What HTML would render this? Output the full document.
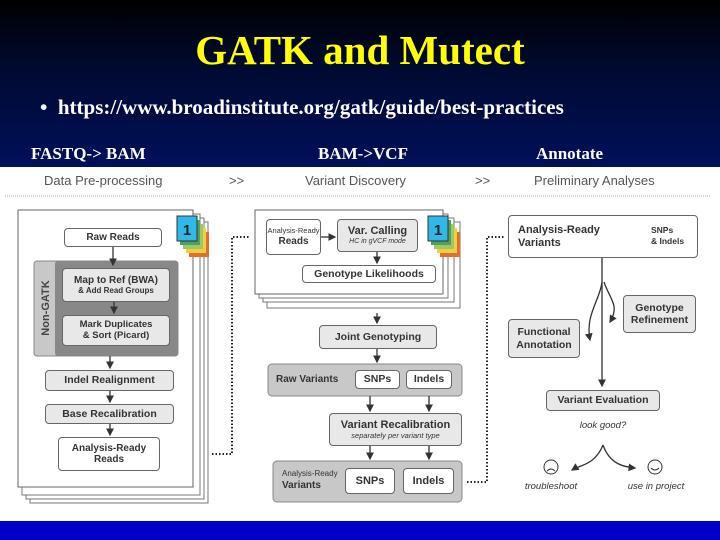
<!DOCTYPE html>
<html><head><meta charset="utf-8"><style>
*{margin:0;padding:0;box-sizing:border-box}
body{width:720px;height:540px;overflow:hidden;position:relative;background:#fff;font-family:"Liberation Sans",sans-serif}
#top{position:absolute;left:0;top:0;width:720px;height:167px;background:linear-gradient(#000 0%,#000a30 40%,#00105a 100%)}
.t{position:absolute;font-family:"Liberation Serif",serif;font-weight:bold;white-space:nowrap}
#bot{position:absolute;left:0;top:521px;width:720px;height:19px;background:#0000c8}
.b{position:absolute;border:1px solid #666;border-radius:4px;display:flex;flex-direction:column;align-items:center;justify-content:center;text-align:center;font-weight:bold;color:#333;line-height:1.15;white-space:nowrap}
.w{background:#fff}.l{background:#e8e8e8}
.h{position:absolute;font-size:13px;color:#555;white-space:nowrap}
</style></head><body>
<div id="top"></div>
<div class="t" style="left:0;width:720px;text-align:center;top:26px;font-size:41px;color:#ffff00">GATK and Mutect</div>
<div class="t" style="left:40px;top:95px;font-size:21px;color:#fff">•&nbsp;&nbsp;https://www.broadinstitute.org/gatk/guide/best-practices</div>
<div class="t" style="left:31px;top:144px;font-size:17px;color:#fff">FASTQ-&gt; BAM</div>
<div class="t" style="left:318px;top:144px;font-size:17px;color:#fff">BAM-&gt;VCF</div>
<div class="t" style="left:536px;top:144px;font-size:17px;color:#fff">Annotate</div>
<div id="bot"></div>

<div class="h" style="left:44px;top:173px">Data Pre-processing</div>
<div class="h" style="left:229px;top:173px">&gt;&gt;</div>
<div class="h" style="left:305px;top:173px">Variant Discovery</div>
<div class="h" style="left:475px;top:173px">&gt;&gt;</div>
<div class="h" style="left:534px;top:173px">Preliminary Analyses</div>

<svg style="position:absolute;left:0;top:0" width="720" height="540">
<defs><marker id="a" markerWidth="6" markerHeight="6" refX="5" refY="3" orient="auto"><path d="M0,0L6,3L0,6z" fill="#333"/></marker></defs>
<line x1="5" y1="196" x2="710" y2="196" stroke="#aaa" stroke-dasharray="1,1"/>
<rect x="30" y="222" width="178" height="281" fill="#fff" stroke="#777"/>
<rect x="26" y="218" width="178" height="281" fill="#fff" stroke="#777"/>
<rect x="22" y="214" width="178" height="281" fill="#fff" stroke="#777"/>
<rect x="18" y="210" width="175" height="277" fill="#fff" stroke="#666"/>
<rect x="189" y="232" width="20" height="25" fill="#e07030"/>
<rect x="186" y="228" width="20" height="25" fill="#f0d040"/>
<rect x="183" y="224" width="20" height="25" fill="#a0c860"/>
<rect x="180" y="220" width="20" height="25" fill="#50a060"/>
<rect x="177" y="216" width="20" height="25" fill="#30b8e8" stroke="#333"/>
<text x="187" y="235" font-size="15" font-weight="bold" text-anchor="middle" fill="#222" font-family="Liberation Sans">1</text>
<rect x="34" y="261" width="144" height="95" rx="3" fill="#c8c8c8" stroke="#888"/>
<rect x="55" y="261" width="123" height="95" rx="3" fill="#888"/>
<text transform="translate(49,308) rotate(-90)" font-size="11" font-weight="bold" text-anchor="middle" fill="#444" font-family="Liberation Sans">Non-GATK</text>
<rect x="267" y="222" width="193" height="86" fill="#fff" stroke="#777"/>
<rect x="263" y="218" width="191" height="84" fill="#fff" stroke="#777"/>
<rect x="259" y="214" width="189" height="84" fill="#fff" stroke="#777"/>
<rect x="255" y="210" width="188" height="84" fill="#fff" stroke="#666"/>
<rect x="440" y="232" width="20" height="25" fill="#e07030"/>
<rect x="437" y="228" width="20" height="25" fill="#f0d040"/>
<rect x="434" y="224" width="20" height="25" fill="#a0c860"/>
<rect x="431" y="220" width="20" height="25" fill="#50a060"/>
<rect x="428" y="216" width="20" height="25" fill="#30b8e8" stroke="#333"/>
<text x="438" y="235" font-size="15" font-weight="bold" text-anchor="middle" fill="#222" font-family="Liberation Sans">1</text>
<rect x="268" y="364" width="194" height="32" rx="4" fill="#c8c8c8" stroke="#888"/>
<rect x="273" y="461" width="189" height="41" rx="4" fill="#c8c8c8" stroke="#888"/>
<g stroke="#333" stroke-width="1.3" marker-end="url(#a)">
<line x1="113" y1="247" x2="113" y2="265"/>
<line x1="114" y1="302" x2="114" y2="313"/>
<line x1="110" y1="356" x2="110" y2="368"/>
<line x1="110" y1="391" x2="110" y2="402"/>
<line x1="110" y1="424" x2="110" y2="435"/>
<line x1="321" y1="237" x2="335" y2="237"/>
<line x1="377" y1="252" x2="377" y2="263"/>
<line x1="377" y1="313" x2="377" y2="323"/>
<line x1="377" y1="349" x2="377" y2="362"/>
<line x1="370" y1="396" x2="370" y2="411"/>
<line x1="429" y1="396" x2="429" y2="411"/>
<line x1="370" y1="446" x2="370" y2="459"/>
<line x1="429" y1="446" x2="429" y2="459"/>
<line x1="602" y1="258" x2="602" y2="386"/>
<path d="M602,282 C600,300 585,315 590,340" fill="none"/>
<path d="M604,282 C610,300 620,305 610,322" fill="none"/>
<path d="M603,445 C595,465 580,465 572,470" fill="none"/>
<path d="M603,445 C610,465 625,467 635,468" fill="none"/>
</g>
<g stroke="#222" stroke-width="2" stroke-dasharray="1.5,2" fill="none">
<path d="M212,454 H232 V237 H250"/>
<path d="M467,482 H487 V237 H505"/>
</g>
<rect x="622" y="222" width="21" height="29" fill="#e05020" stroke="#333"/>
<rect x="622" y="222" width="21" height="6" fill="#40b8e0"/>
<rect x="622" y="228" width="21" height="6" fill="#50c0a0"/>
<rect x="622" y="234" width="21" height="5" fill="#a0d050"/>
<rect x="622" y="239" width="21" height="6" fill="#f0c030"/>
<circle cx="551" cy="467" r="7" fill="none" stroke="#333"/>
<path d="M547,471 Q551,467 555,471" fill="none" stroke="#333"/>
<circle cx="655" cy="467" r="7" fill="none" stroke="#333"/>
<path d="M651,468 Q655,472 659,468" fill="none" stroke="#333"/>
</svg>

<div class="b w" style="left:64px;top:228px;width:98px;height:19px;font-size:10px">Raw Reads</div>
<div class="b l" style="left:62px;top:268px;width:108px;height:34px;font-size:10px"><div>Map to Ref (BWA)</div><div style="font-size:8px">&amp; Add Read Groups</div></div>
<div class="b l" style="left:62px;top:315px;width:108px;height:31px;font-size:9.5px"><div>Mark Duplicates</div><div>&amp; Sort (Picard)</div></div>
<div class="b l" style="left:45px;top:370px;width:129px;height:21px;font-size:10.5px">Indel Realignment</div>
<div class="b l" style="left:45px;top:404px;width:129px;height:20px;font-size:10.5px">Base Recalibration</div>
<div class="b w" style="left:58px;top:437px;width:102px;height:34px;font-size:10px"><div>Analysis-Ready</div><div>Reads</div></div>

<div class="b w" style="left:266px;top:219px;width:55px;height:36px;font-size:7.5px;font-weight:normal"><div>Analysis-Ready</div><div style="font-size:10px;font-weight:bold">Reads</div></div>
<div class="b l" style="left:337px;top:219px;width:81px;height:33px;font-size:11px"><div>Var. Calling</div><div style="font-size:7px;font-weight:normal;font-style:italic">HC in gVCF mode</div></div>
<div class="b w" style="left:302px;top:265px;width:134px;height:18px;font-size:10.5px">Genotype Likelihoods</div>
<div class="b l" style="left:319px;top:325px;width:118px;height:24px;font-size:10.5px">Joint Genotyping</div>
<div style="position:absolute;left:276px;top:374px;font-size:10px;font-weight:bold;color:#333">Raw Variants</div>
<div class="b w" style="left:355px;top:370px;width:45px;height:19px;font-size:10.5px">SNPs</div>
<div class="b w" style="left:406px;top:370px;width:46px;height:19px;font-size:10.5px">Indels</div>
<div class="b l" style="left:329px;top:413px;width:133px;height:33px;font-size:11px"><div>Variant Recalibration</div><div style="font-size:7.5px;font-weight:normal;font-style:italic">separately per variant type</div></div>
<div style="position:absolute;left:282px;top:469px;font-size:8px;color:#333;line-height:1.3">Analysis-Ready<br><b style="font-size:10px">Variants</b></div>
<div class="b w" style="left:345px;top:468px;width:50px;height:26px;font-size:11px">SNPs</div>
<div class="b w" style="left:403px;top:468px;width:51px;height:26px;font-size:11px">Indels</div>

<div class="b w" style="left:508px;top:215px;width:190px;height:43px;font-size:11px;align-items:flex-start;padding-left:9px;text-align:left"><div>Analysis-Ready</div><div>Variants</div></div>
<div style="position:absolute;left:651px;top:225px;font-size:8.5px;font-weight:bold;color:#333;line-height:1.25">SNPs<br>&amp; Indels</div>
<div class="b l" style="left:623px;top:295px;width:73px;height:38px;font-size:10.5px"><div>Genotype</div><div>Refinement</div></div>
<div class="b l" style="left:508px;top:319px;width:72px;height:39px;font-size:10.5px"><div>Functional</div><div>Annotation</div></div>
<div class="b l" style="left:546px;top:390px;width:114px;height:21px;font-size:10.5px">Variant Evaluation</div>
<div style="position:absolute;left:563px;top:420px;width:80px;text-align:center;font-size:9.5px;font-style:italic;color:#333">look good?</div>
<div style="position:absolute;left:516px;top:481px;width:70px;text-align:center;font-size:9.5px;font-style:italic;color:#333">troubleshoot</div>
<div style="position:absolute;left:616px;top:481px;width:80px;text-align:center;font-size:9.5px;font-style:italic;color:#333">use in project</div>
</body></html>
